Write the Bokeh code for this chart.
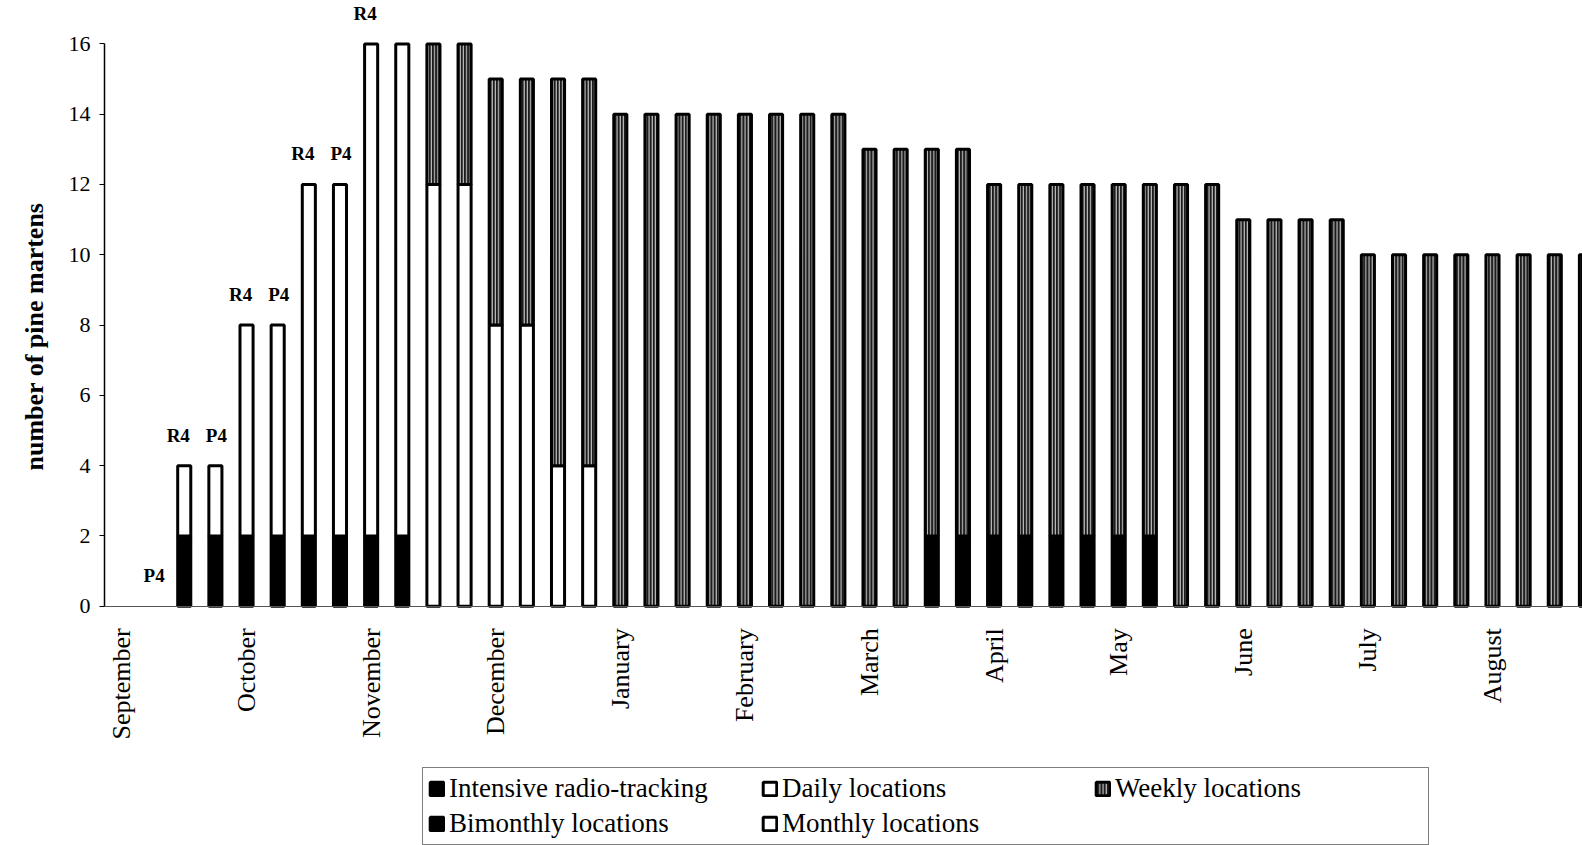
import numpy as np
from bokeh.plotting import figure
from bokeh.models import (ColumnDataSource, Range1d, FixedTicker, Legend,
                          LegendItem, LabelSet, CDSView, IndexFilter, Title)
from bokeh.embed import file_html
from bokeh.resources import INLINE

# ---- data (48 weekly slots, 4 per month, September -> August) ----
months = ["September", "October", "November", "December", "January", "February",
          "March", "April", "May", "June", "July", "August"]
weeks_per_month = 4
n_slots = 48

intensive = [0, 0, 2, 2, 2, 2, 2, 2, 2, 2] + [0] * 38
bimonthly = [0] * 26 + [2] * 8 + [0] * 14
daily = [0, 0, 2, 2, 6, 6, 10, 10, 14, 14, 12, 12, 8, 8, 4, 4] + [0] * 32
monthly = [0] * 48
weekly = ([0] * 10 + [4, 4, 7, 7, 11, 11] + [14] * 8 + [13, 13, 11, 11]
          + [10] * 6 + [12, 12] + [11] * 4 + [10] * 8)

r_slots = [2, 4, 6, 8]
r_texts = ["R4", "R4", "R4", "R4"]
p_slots = [1, 3, 5, 7]
p_texts = ["P4", "P4", "P4", "P4"]

series_names = ["Intensive radio-tracking", "Bimonthly locations", "Daily locations",
                "Monthly locations", "Weekly locations"]
series_values = [intensive, bimonthly, daily, monthly, weekly]

SERIF = "Liberation Serif"

# frame spans the canvas right of the y axis; y=0 lies 600px from the top
FRAME_H = 837.0
PX_PER_UNIT = 557.0 / 16
p = figure(width=1582, height=845, x_range=Range1d(-0.56, 46.89),
           y_range=Range1d(-(FRAME_H - 600) / PX_PER_UNIT, 600 / PX_PER_UNIT),
           output_backend="svg", toolbar_location=None, title=None,
           min_border_left=104, min_border_right=0, min_border_top=0,
           min_border_bottom=0)
p.xgrid.visible = False
p.ygrid.visible = False
p.outline_line_color = None
p.background_fill_color = "white"

x_all = np.arange(n_slots)
cum = np.zeros(n_slots)
renderers = {}
styles = {
    "Intensive radio-tracking": dict(fill_color="black"),
    "Bimonthly locations": dict(fill_color="black"),
    "Daily locations": dict(fill_color="white"),
    "Monthly locations": dict(fill_color="white"),
    "Weekly locations": dict(fill_color="#1c1c1c", hatch_pattern="vertical_line",
                             hatch_color="#d8d8d8", hatch_scale=3.2, hatch_weight=1.0),
}
for name, vals in zip(series_names, series_values):
    v = np.array(vals, dtype=float)
    src = ColumnDataSource(dict(x=x_all, bottom=cum.copy(), top=cum + v))
    view = CDSView(filter=IndexFilter([int(i) for i in np.nonzero(v > 0)[0]]))
    r = p.vbar(x="x", bottom="bottom", top="top", width=0.42, source=src, view=view,
               line_color="black", line_width=3, **styles[name])
    renderers[name] = r
    cum = cum + v

totals = cum
for slots, texts, xoff in ((r_slots, r_texts, -6), (p_slots, p_texts, 1)):
    lab_src = ColumnDataSource(dict(x=slots, y=[totals[s] for s in slots], text=texts))
    p.add_layout(LabelSet(x="x", y="y", text="text", source=lab_src, text_font=SERIF,
                          text_font_style="bold", text_font_size="19px",
                          text_align="center", text_baseline="alphabetic",
                          x_offset=xoff, y_offset=24, text_color="black"))

# ---- axes ----
yax = p.yaxis[0]
yax.ticker = FixedTicker(ticks=list(range(0, 17, 2)), minor_ticks=[])
yax.bounds = (0, 16)
yax.major_label_text_font = SERIF
yax.major_label_text_font_size = "22px"
yax.major_label_text_color = "black"
yax.major_tick_out = 5
yax.major_tick_in = 0
yax.minor_tick_out = 0
yax.axis_line_width = 1.5
yax.major_label_standoff = 9

ytitle = Title(text="number of pine martens", text_font=SERIF, text_font_style="bold",
               text_font_size="26px", text_color="black", align="left",
               offset=FRAME_H - 462, standoff=34)
p.add_layout(ytitle, "left")

xax = p.xaxis[0]
tick_pos = [i * weeks_per_month for i in range(len(months))]
xax.fixed_location = 0
xax.ticker = FixedTicker(ticks=tick_pos, minor_ticks=[])
xax.major_label_overrides = {t: m for t, m in zip(tick_pos, months)}
xax.major_label_orientation = np.pi / 2
xax.major_label_text_font = SERIF
xax.major_label_text_font_size = "26px"
xax.major_label_text_color = "black"
xax.major_label_standoff = 16
xax.major_tick_line_color = None
xax.minor_tick_line_color = None
xax.axis_line_color = "#555555"
xax.axis_line_width = 1

# ---- legend ----
# "Monthly locations" has no bars in this period; its key uses the same
# white-box style as the daily bars.
legend_renderers = dict(renderers)
legend_renderers["Monthly locations"] = renderers["Daily locations"]
order = ["Intensive radio-tracking", "Daily locations", "Weekly locations",
         "Bimonthly locations", "Monthly locations"]
legend = Legend(items=[LegendItem(label=n, renderers=[legend_renderers[n]]) for n in order],
                location=(318, 0), orientation="horizontal", ncols=3,
                border_line_color="black", border_line_width=1,
                background_fill_color="white", background_fill_alpha=1.0,
                label_text_font=SERIF, label_text_font_size="27px",
                label_text_color="black",
                glyph_width=17, glyph_height=17, label_standoff=4, spacing=4,
                padding=5, margin=0, label_width=308)
p.add_layout(legend)

open("out.html", "w").write(file_html(p, INLINE))
